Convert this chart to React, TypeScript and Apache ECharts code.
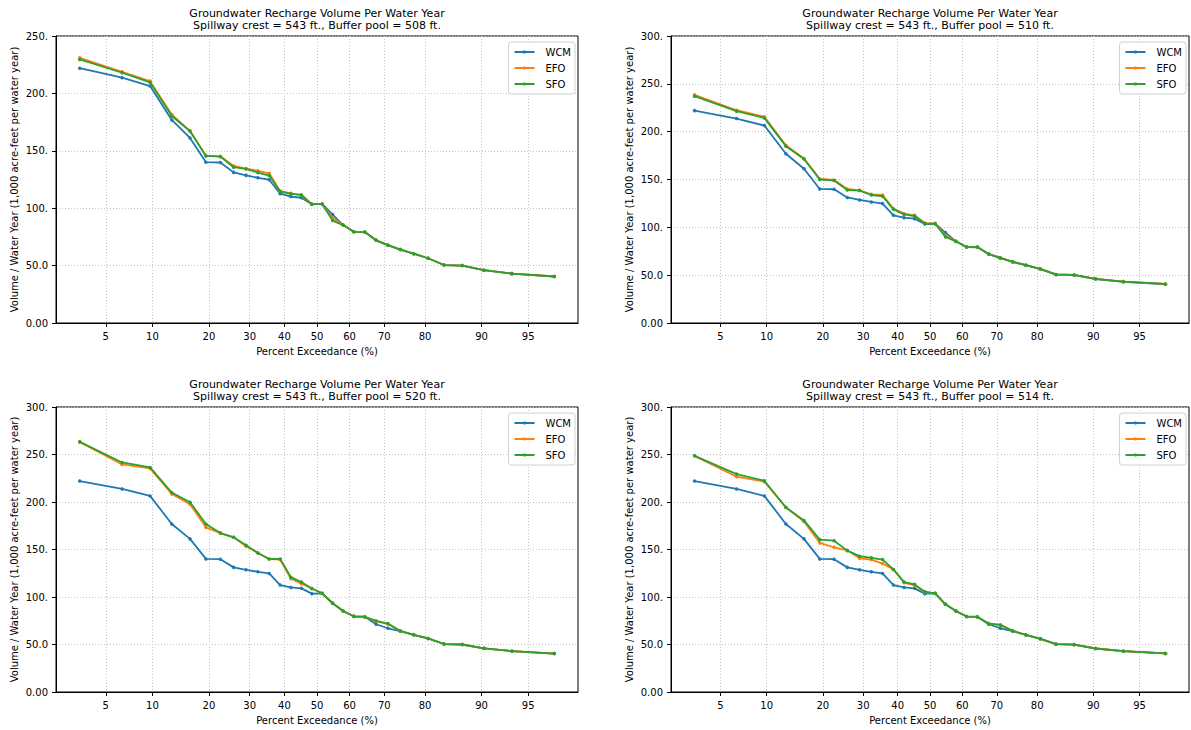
import React, { useEffect, useRef } from "react";
import * as echarts from "echarts";

// Percent exceedance of each ranked water year (plotting positions, n = 30)
const exceedance = [
  3.23, 6.45, 9.68, 12.9, 16.13, 19.35, 22.58, 25.81, 29.03, 32.26, 35.48, 38.71, 41.94, 45.16, 48.39,
  51.61, 54.84, 58.06, 61.29, 64.52, 67.74, 70.97, 74.19, 77.42, 80.65, 83.87, 87.1, 90.32, 93.55, 96.77,
];

const xTickPercents = [5, 10, 20, 30, 40, 50, 60, 70, 80, 90, 95];
const seriesNames = ["WCM", "EFO", "SFO"];
const bufferPools = [508, 510, 520, 514];
const yMaxes = [250, 300, 300, 300];

const wcm = [
  222, 213.7, 206.4, 176.9, 161.2, 140.1, 139.8, 131.2, 128.6, 126.5, 124.8, 112.6, 110.1, 109.1, 103.5,
  103.7, 94.5, 85.3, 79.4, 79.2, 72, 67.8, 64, 60.4, 56.4, 50.5, 50, 46, 43, 40.5,
];
const wcm520 = [
  222, 213.7, 206.4, 176.9, 161.2, 140.1, 139.8, 131.2, 128.6, 126.5, 124.8, 112.6, 110.1, 109.1, 103.5,
  103.7, 93.4, 85.3, 79.4, 79.2, 71.3, 67.1, 64, 60.2, 56.4, 50.5, 50, 46, 43, 40.5,
];
const wcm514 = [
  222, 213.7, 206.4, 176.9, 161.2, 140.1, 139.8, 131.2, 128.6, 126.5, 124.8, 112.6, 110.1, 109.1, 103.5,
  103.7, 92.3, 85.3, 79.4, 79.2, 71.3, 67.1, 64, 60.2, 56.2, 50.4, 49.9, 45.8, 43, 40.6,
];

const efo508 = [
  231, 218.8, 210.7, 181.7, 167.2, 145.8, 145.2, 136.8, 134.5, 132.5, 130.4, 115, 113, 111.3, 103.5,
  103.7, 91.5, 85.3, 79.4, 79.2, 72, 67.8, 64, 60.4, 56.4, 50.5, 50, 46, 43, 40.7,
];
const sfo508 = [
  229.6, 218, 209.6, 180.3, 167.2, 145.5, 144.9, 135.7, 134.2, 131, 128.4, 114.5, 112.5, 111.6, 103.5,
  103.7, 89.2, 85.3, 79.4, 79.2, 72, 67.8, 64, 60.4, 56.4, 50.5, 50, 46, 43, 40.5,
];

const efo510 = [
  238.5, 222.4, 215.5, 185.8, 171.9, 150.6, 149.5, 140.1, 138.7, 134.5, 133.8, 119.5, 114.3, 112.6, 104.5,
  103.9, 91.5, 85.4, 79.5, 79.4, 72.2, 68, 63.9, 60.4, 56.6, 50.8, 50.2, 46.2, 43.3, 40.8,
];
const sfo510 = [
  237.1, 221.4, 214.4, 184.8, 171.5, 150, 149, 139, 138.4, 133.8, 132.5, 118.8, 113.5, 111.8, 104,
  103.9, 90, 85.4, 79.5, 79.4, 72.2, 68, 63.9, 60.4, 56.6, 50.8, 50.2, 46.2, 43.3, 40.8,
];

const efo520 = [
  263.3, 239.5, 235.4, 208.5, 197.7, 173.3, 167.3, 162.8, 153.4, 146.4, 140, 139.4, 119.2, 114, 109,
  103.9, 93.4, 85.3, 79.7, 79, 74.5, 71.5, 64.3, 60.2, 56.4, 50.5, 50, 46, 43, 40.5,
];
const sfo520 = [
  263.3, 241.6, 236.4, 209.9, 199.8, 176.8, 167.3, 162.8, 154.4, 146.4, 140, 140, 120.9, 115.7, 109,
  103.9, 93.4, 85.3, 79.7, 79, 74.8, 72, 64.3, 60.2, 56.4, 50.5, 50, 46, 43, 40.5,
];

const efo514 = [
  248.6, 226.6, 221.4, 194.5, 179.5, 156.9, 152.3, 149.2, 140.8, 139.4, 135.2, 129, 115, 112.6, 105.2,
  103.9, 92.3, 85.3, 79.4, 79, 72, 70.6, 64.3, 60.1, 56, 50.3, 49.8, 45.8, 43, 40.6,
];
const sfo514 = [
  248.6, 229.4, 222.4, 194.2, 180.6, 160.4, 159.3, 148.8, 143, 141.2, 139.4, 129, 115.7, 113.3, 105.6,
  103.9, 92.3, 85.3, 79.4, 79, 72, 70.6, 64.3, 60.1, 56, 50.3, 49.8, 45.8, 43, 40.6,
];

const panelValues = [
  [wcm, efo508, sfo508],
  [wcm, efo510, sfo510],
  [wcm520, efo520, sfo520],
  [wcm514, efo514, sfo514],
];

// ---- normal probability scale (inverse standard normal CDF) ----
function probit(p: number): number {
  const a = [-3.969683028665376e1, 2.209460984245205e2, -2.759285104469687e2, 1.38357751867269e2, -3.066479806614716e1, 2.506628277459239];
  const b = [-5.447609879822406e1, 1.615858368580409e2, -1.556989798598866e2, 6.680131188771972e1, -1.328068155288572e1];
  const c = [-7.784894002430293e-3, -3.223964580411365e-1, -2.400758277161838, -2.549732539343734, 4.374664141464968, 2.938163982698783];
  const d = [7.784695709041462e-3, 3.224671290700398e-1, 2.445134137142996, 3.754408661907416];
  const pl = 0.02425;
  if (p < pl) {
    const q = Math.sqrt(-2 * Math.log(p));
    return (((((c[0] * q + c[1]) * q + c[2]) * q + c[3]) * q + c[4]) * q + c[5]) / ((((d[0] * q + d[1]) * q + d[2]) * q + d[3]) * q + 1);
  }
  if (p <= 1 - pl) {
    const q = p - 0.5;
    const r = q * q;
    return ((((((a[0] * r + a[1]) * r + a[2]) * r + a[3]) * r + a[4]) * r + a[5]) * q) / (((((b[0] * r + b[1]) * r + b[2]) * r + b[3]) * r + b[4]) * r + 1);
  }
  const q = Math.sqrt(-2 * Math.log(1 - p));
  return -(((((c[0] * q + c[1]) * q + c[2]) * q + c[3]) * q + c[4]) * q + c[5]) / ((((d[0] * q + d[1]) * q + d[2]) * q + d[3]) * q + 1);
}

const COLORS = ["#1f77b4", "#ff7f0e", "#2ca02c"];
const FONT = "DejaVu Sans";

export default function App() {
  const ref = useRef<HTMLDivElement>(null);

  useEffect(() => {
    if (!ref.current) return;
    const chart = echarts.init(ref.current, undefined, { renderer: "svg" });

    const xTickZ = xTickPercents.map((p) => probit(p / 100));
    const zFirst = probit(exceedance[0] / 100);
    const zLast = probit(exceedance[exceedance.length - 1] / 100);
    const margin = (zLast - zFirst) * 0.05;
    const xMin = zFirst - margin;
    const xMax = zLast + margin;

    const grids = [
      { left: 56, top: 36, width: 522, height: 287 },
      { left: 671, top: 36, width: 518, height: 287 },
      { left: 56, top: 407, width: 522, height: 285 },
      { left: 671, top: 407, width: 518, height: 285 },
    ];

    const gridOpts: any[] = [];
    const xAxes: any[] = [];
    const yAxes: any[] = [];
    const series: any[] = [];
    const legends: any[] = [];
    const graphics: any[] = [];

    grids.forEach((g, k) => {
      gridOpts.push({
        ...g,
        show: true,
        borderColor: "#000",
        borderWidth: 1,
        backgroundColor: "transparent",
        containLabel: false,
      });
      xAxes.push({
        type: "value",
        gridIndex: k,
        min: xMin,
        max: xMax,
        name: "Percent Exceedance (%)",
        nameLocation: "middle",
        nameGap: 23,
        nameTextStyle: { fontFamily: FONT, fontSize: 10, color: "#000" },
        axisLine: { show: true, onZero: false, lineStyle: { color: "#000", width: 1 } },
        axisTick: { show: true, length: 4, customValues: xTickZ, lineStyle: { color: "#000" } },
        axisLabel: {
          show: true,
          customValues: xTickZ,
          margin: 8,
          fontFamily: FONT,
          fontSize: 10,
          color: "#000",
          formatter: (v: number) => {
            let best = 0;
            xTickZ.forEach((z, i) => {
              if (Math.abs(z - v) < Math.abs(xTickZ[best] - v)) best = i;
            });
            return String(xTickPercents[best]);
          },
        },
        splitLine: { show: true, lineStyle: { color: "#c4c4c4", width: 1, type: [1, 2] } },
      });
      yAxes.push({
        type: "value",
        gridIndex: k,
        min: 0,
        max: yMaxes[k],
        interval: 50,
        name: "Volume / Water Year (1,000 acre-feet per water year)",
        nameLocation: "middle",
        nameRotate: 90,
        nameGap: 37,
        nameTextStyle: { fontFamily: FONT, fontSize: 10, color: "#000" },
        axisLine: { show: true, onZero: false, lineStyle: { color: "#000", width: 1 } },
        axisTick: { show: true, length: 4, lineStyle: { color: "#000" } },
        axisLabel: {
          margin: 8,
          fontFamily: FONT,
          fontSize: 10,
          color: "#000",
          formatter: (v: number) => v.toFixed(2).slice(0, 4),
        },
        splitLine: { show: true, lineStyle: { color: "#c4c4c4", width: 1, type: [1, 2] } },
      });
      seriesNames.forEach((name, s) => {
        series.push({
          type: "line",
          name,
          xAxisIndex: k,
          yAxisIndex: k,
          data: exceedance.map((p, i) => [probit(p / 100), panelValues[k][s][i]]),
          symbol: "circle",
          symbolSize: 3.5,
          showSymbol: true,
          color: COLORS[s],
          lineStyle: { width: 1.8, color: COLORS[s] },
          itemStyle: { color: COLORS[s] },
          z: 2 + s,
        });
      });
      const gridRight = g.left + g.width;
      legends.push({
        show: true,
        orient: "vertical",
        right: 1191 - (gridRight - 3),
        top: g.top + 6,
        data: seriesNames,
        itemWidth: 20,
        itemHeight: 4,
        itemGap: 4,
        padding: [4, 4, 4, 5],
        backgroundColor: "rgba(255,255,255,0.8)",
        borderColor: "#d0d0d0",
        borderWidth: 1,
        borderRadius: 3,
        selectedMode: false,
        textStyle: { fontFamily: FONT, fontSize: 10, color: "#000", padding: [0, 0, 0, 6], lineHeight: 12 },
      });
      const cx = g.left + g.width / 2;
      graphics.push({
        type: "text",
        x: cx,
        y: g.top - 23,
        style: {
          text: "Groundwater Recharge Volume Per Water Year",
          fill: "#000",
          font: `11px "${FONT}"`,
          textAlign: "center",
          textVerticalAlign: "middle",
        },
      });
      graphics.push({
        type: "text",
        x: cx,
        y: g.top - 11,
        style: {
          text: `Spillway crest = 543 ft., Buffer pool = ${bufferPools[k]} ft.`,
          fill: "#000",
          font: `11px "${FONT}"`,
          textAlign: "center",
          textVerticalAlign: "middle",
        },
      });
    });

    chart.setOption({
      animation: false,
      backgroundColor: "#fff",
      grid: gridOpts,
      xAxis: xAxes,
      yAxis: yAxes,
      series,
      legend: legends,
      graphic: graphics,
    });

    return () => chart.dispose();
  }, []);

  return (
    <div
      ref={ref}
      style={{ position: "absolute", left: 0, top: 0, width: 1191, height: 730, background: "#fff" }}
    />
  );
}
